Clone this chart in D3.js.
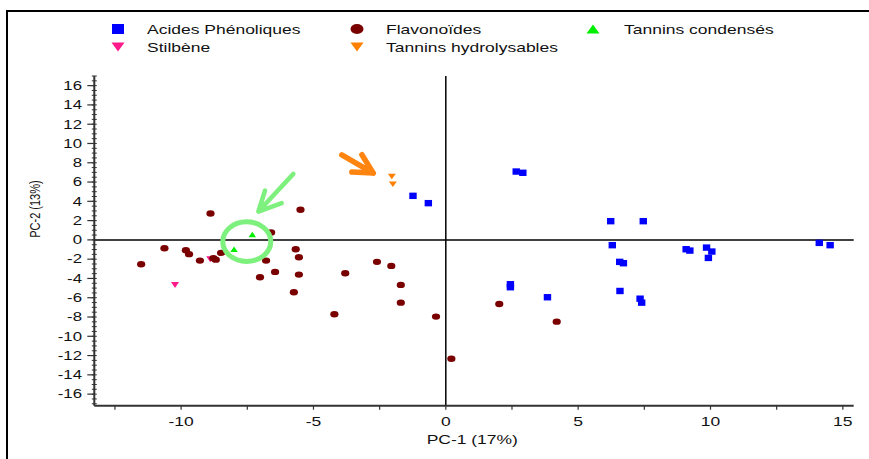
<!DOCTYPE html>
<html><head><meta charset="utf-8">
<script src="https://cdn.jsdelivr.net/npm/d3@7"></script>
<style>body{margin:0;background:#fff}svg{display:block}text{font-family:"Liberation Sans",Arial,sans-serif;fill:#111}</style>
</head><body>
<svg id="c" width="869" height="459"></svg>
<script>
// ---- data (PC-1, PC-2) ----
const acidesPhenoliques = [
  [-1.24,4.57],[-0.66,3.81],[2.66,7.09],[2.91,6.96],[2.44,-4.60],[2.44,-4.91],[3.84,-5.95],
  [6.23,1.94],[7.46,1.94],[6.29,-0.55],[6.57,-2.28],[6.71,-2.42],[6.58,-5.30],[7.34,-6.10],
  [7.40,-6.51],[9.08,-0.97],[9.22,-1.11],[9.85,-0.80],[10.05,-1.21],[9.92,-1.87],[14.11,-0.31],[14.52,-0.55]
];
const flavonoides = [
  [-8.89,2.73],[-5.49,3.12],[-6.60,0.76],[-10.63,-0.86],[-9.82,-1.07],[-9.70,-1.48],[-9.29,-2.15],
  [-11.51,-2.52],[-8.49,-1.35],[-8.78,-1.90],[-8.69,-2.05],[-6.79,-2.15],[-6.45,-3.32],[-7.02,-3.87],
  [-5.67,-0.97],[-5.55,-1.80],[-5.55,-3.60],[-5.74,-5.43],[-3.80,-3.46],[-2.60,-2.28],[-2.06,-2.70],
  [-1.70,-4.67],[-1.70,-6.51],[-4.21,-7.72],[-0.37,-7.96],[0.21,-12.33],[2.02,-6.65],[4.19,-8.48]
];
const tanninsCondenses = [[-7.31,0.55],[-8.00,-0.97]];
const stilbene = [[-8.90,-2.00],[-10.23,-4.67]];
const tanninsHydrolysables = [[-2.04,6.57],[-2.00,5.78]];
const xTickLabels = [-10,-5,0,5,10,15];
const yTickLabels = [16,14,12,10,8,6,4,2,0,-2,-4,-6,-8,-10,-12,-14,-16];
const legendLabels = ["Acides Phénoliques","Flavonoïdes","Tannins condensés","Stilbène","Tannins hydrolysables"];
// annotation overlays in data units
const greenRing = {cx:-7.52, cy:-0.18};
const greenArrow = [[-5.76,6.85],[-7.08,2.94],[-6.83,5.12],[-6.20,3.81]];
const orangeArrow = [[-3.93,8.83],[-2.74,6.93],[-3.17,8.83],[-3.55,7.03]];

const svg = d3.select("#c");
const SX = 1.4; // horizontal stretch of the original picture
const x = d3.scaleLinear().domain([-13.28,15.41]).range([94.3,853.7]);
const y = d3.scaleLinear().domain([-17.2,17.0]).range([405.7,76]);

// outer frame
svg.append("rect").attr("x",7).attr("y",11).attr("width",880).attr("height",470)
  .attr("fill","none").attr("stroke","#000").attr("stroke-width",2);

function stext(g, tx, ty, str, anchor, size){
  return g.append("text").attr("transform",`translate(${tx},${ty}) scale(${SX},1)`)
    .attr("text-anchor",anchor||"start").attr("font-size",size||12.5).text(str);
}

// zero lines
svg.append("line").attr("x1",x(0)).attr("x2",x(0)).attr("y1",y.range()[1]).attr("y2",y.range()[0])
  .attr("stroke","#000").attr("stroke-width",1.5);
svg.append("line").attr("x1",x.range()[0]).attr("x2",x.range()[1]).attr("y1",y(0)).attr("y2",y(0))
  .attr("stroke","#000").attr("stroke-width",1.5);

// x axis
const gx = svg.append("g");
gx.append("line").attr("x1",x.range()[0]).attr("x2",x.range()[1]).attr("y1",y.range()[0]).attr("y2",y.range()[0])
  .attr("stroke","#333").attr("stroke-width",2);
const xt = d3.range(-12.5,15.01,2.5);
gx.selectAll(".xt").data(xt).join("line").attr("x1",d=>x(d)).attr("x2",d=>x(d))
  .attr("y1",y.range()[0]).attr("y2",y.range()[0]+4).attr("stroke","#333").attr("stroke-width",1.2);
xTickLabels.forEach(v=>stext(gx,x(v),426,String(v),"middle",12.5));
stext(gx,x(1),444,"PC-1 (17%)","middle",12.5);

// y axis
const gy = svg.append("g");
gy.append("line").attr("x1",x.range()[0]).attr("x2",x.range()[0]).attr("y1",y.range()[1]).attr("y2",y.range()[0])
  .attr("stroke","#333").attr("stroke-width",2);
const yminor = d3.range(-17,17.01,0.5);
gy.selectAll(".ym").data(yminor).join("line").attr("x1",x.range()[0]-2.5).attr("x2",x.range()[0]+2.5)
  .attr("y1",d=>y(d)).attr("y2",d=>y(d)).attr("stroke","#333").attr("stroke-width",1);
gy.selectAll(".yM").data(yTickLabels).join("line").attr("x1",x.range()[0]-7).attr("x2",x.range()[0])
  .attr("y1",d=>y(d)).attr("y2",d=>y(d)).attr("stroke","#333").attr("stroke-width",1.2);
yTickLabels.forEach(v=>stext(gy,82,y(v)+4.3,String(v),"end",12));
gy.append("text").attr("transform",`translate(39.5,${y(3.2)}) scale(${SX},1) rotate(-90)`)
  .attr("text-anchor","middle").attr("font-size",11).text("PC-2 (13%)");

// markers
const cBlue="#0000ff", cBrown="#7a0000", cGreen="#00ee00", cPink="#ff1a8c", cOrange="#ff8000";
const triUp = (w,h)=>`M0,${-h/2}L${w/2},${h/2}L${-w/2},${h/2}Z`;
const triDown = (w,h)=>`M0,${h/2}L${w/2},${-h/2}L${-w/2},${-h/2}Z`;

const gp = svg.append("g");
gp.selectAll(".st").data(stilbene).join("path").attr("d",triDown(8,6))
  .attr("transform",d=>`translate(${x(d[0])},${y(d[1])})`).attr("fill",cPink);
gp.selectAll(".fl").data(flavonoides).join("ellipse").attr("cx",d=>x(d[0])).attr("cy",d=>y(d[1]))
  .attr("rx",4.1).attr("ry",3.2).attr("fill",cBrown);
gp.selectAll(".tc").data(tanninsCondenses).join("path").attr("d",triUp(7.5,5.5))
  .attr("transform",d=>`translate(${x(d[0])},${y(d[1])})`).attr("fill",cGreen);
gp.selectAll(".th").data(tanninsHydrolysables).join("path").attr("d",triDown(8,5.5))
  .attr("transform",d=>`translate(${x(d[0])},${y(d[1])})`).attr("fill",cOrange);
gp.selectAll(".ap").data(acidesPhenoliques).join("rect").attr("x",d=>x(d[0])-3.7).attr("y",d=>y(d[1])-3.2)
  .attr("width",7.4).attr("height",6.4).attr("fill",cBlue);

// annotations
const ga = svg.append("g").attr("fill","none").attr("stroke-linecap","round").attr("stroke-linejoin","round");
ga.append("ellipse").attr("cx",x(greenRing.cx)).attr("cy",y(greenRing.cy)).attr("rx",24).attr("ry",19.8)
  .attr("stroke","#7ef07e").attr("stroke-width",5);
function arrow(pts,color,w){
  const [t,h,w1,w2]=pts.map(p=>[x(p[0]),y(p[1])]);
  ga.append("path").attr("d",`M${t}L${h}M${w1}L${h}L${w2}`).attr("stroke",color).attr("stroke-width",w);
}
arrow(greenArrow,"#7ef07e",4.5);
arrow(orangeArrow,"#ff8410",5.5);

// legend
const gl = svg.append("g");
const legendPos = [[118,29],[357,29],[593,29],[118,47],[357,47]];
const textX = [147,386,624,147,386];
gl.append("rect").attr("x",legendPos[0][0]-6).attr("y",legendPos[0][1]-5).attr("width",12).attr("height",10).attr("fill",cBlue);
gl.append("ellipse").attr("cx",legendPos[1][0]).attr("cy",legendPos[1][1]).attr("rx",6.5).attr("ry",5).attr("fill",cBrown);
gl.append("path").attr("d",triUp(13,9)).attr("transform",`translate(${legendPos[2][0]},${legendPos[2][1]})`).attr("fill",cGreen);
gl.append("path").attr("d",triDown(13,9)).attr("transform",`translate(${legendPos[3][0]},${legendPos[3][1]})`).attr("fill",cPink);
gl.append("path").attr("d",triDown(13,9)).attr("transform",`translate(${legendPos[4][0]},${legendPos[4][1]})`).attr("fill",cOrange);
legendLabels.forEach((s,i)=>stext(gl,textX[i],legendPos[i][1]+4.5,s,"start",12.5));
</script>
</body></html>
